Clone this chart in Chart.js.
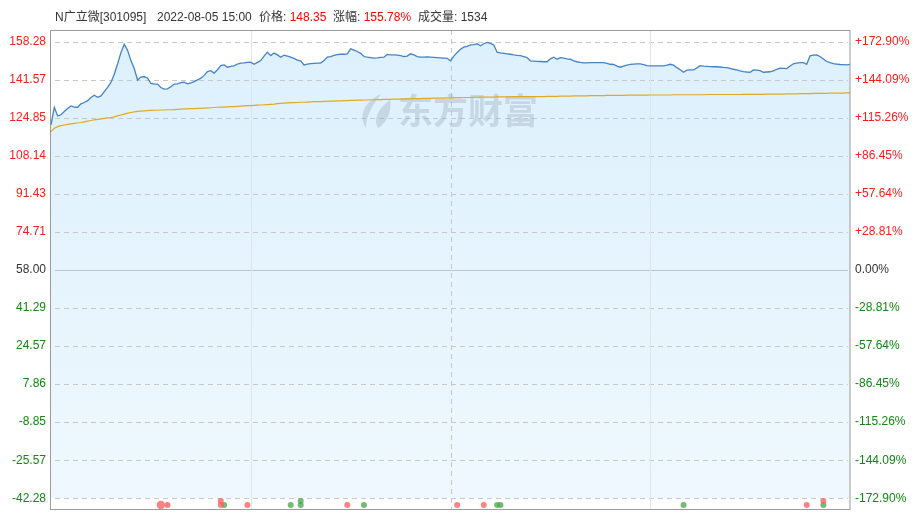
<!DOCTYPE html>
<html><head><meta charset="utf-8">
<script src="https://cdn.jsdelivr.net/npm/chart.js@4/dist/chart.umd.min.js"></script>
<style>
html,body{margin:0;padding:0;background:#fff;}
#wrap{position:relative;width:920px;height:515px;overflow:hidden;}
canvas{position:absolute;left:0;top:0;}
.h{position:absolute;top:9px;font:12px "Liberation Sans","Noto Sans CJK SC",Arial,sans-serif;color:#333;white-space:nowrap;line-height:16px;}
.r{color:#f00;}
</style></head>
<body><div id="wrap"><canvas id="c" width="920" height="515"></canvas>
<div class="h" style="left:55px">N广立微[301095]</div>
<div class="h" style="left:157px">2022-08-05 15:00</div>
<div class="h" style="left:259px">价格: <span class="r">148.35</span></div>
<div class="h" style="left:333px">涨幅: <span class="r">155.78%</span></div>
<div class="h" style="left:418px">成交量: 1534</div>
</div>
<script>
// ---- data ----
const preClose = 58.00;
const minutes = Array.from({length: 241}, (_, i) => i); // minute index 09:30..15:00
const prices = [
121.8,129.5,125.7,126.2,127.6,129.0,130.1,129.6,129.5,131.0,
131.6,132.4,133.8,134.8,133.9,134.5,136.4,138.2,140.4,144.0,
148.5,153.5,157.2,154.5,150.0,146.5,141.5,142.8,143.0,142.3,
140.0,139.7,139.7,138.2,137.5,137.6,138.5,139.7,139.8,140.3,
140.5,139.8,140.2,140.8,141.5,142.3,143.5,145.2,145.6,144.5,
146.0,147.8,148.1,147.1,147.5,147.7,148.5,148.9,149.0,149.2,
149.3,148.4,149.2,150.0,152.0,153.7,152.2,153.3,152.5,151.5,
152.4,152.0,151.5,151.0,150.2,149.9,148.1,148.5,148.7,148.8,
148.9,148.9,150.0,151.5,151.8,152.3,152.6,152.8,152.8,153.0,
155.2,154.6,154.0,153.2,151.8,151.5,151.3,151.1,151.2,151.4,
151.5,152.7,152.5,152.5,152.4,152.2,151.8,152.0,153.0,152.5,
151.8,151.5,151.5,151.6,151.5,151.4,151.3,151.2,151.1,151.0,
149.9,152.0,153.6,155.0,155.9,156.3,156.9,157.0,157.4,156.5,
157.4,158.0,157.6,156.9,153.7,153.4,153.2,153.0,152.8,152.5,
152.3,152.2,151.8,151.3,149.9,149.8,149.7,149.6,149.5,149.5,
150.8,151.5,150.6,151.3,151.1,150.8,150.6,149.9,149.5,149.2,
149.0,149.0,149.1,149.1,149.1,149.1,149.1,148.8,148.4,148.3,
147.6,147.1,147.6,148.0,148.3,148.5,148.6,148.6,148.2,147.8,
147.7,147.7,147.7,147.7,147.7,148.0,148.4,148.0,146.9,146.0,
144.9,145.8,145.9,145.9,146.8,147.8,147.6,147.5,147.4,147.3,
147.3,147.2,147.0,146.9,146.6,146.2,145.9,145.5,145.2,145.0,
144.9,145.9,145.8,145.6,144.9,145.0,145.1,145.5,146.2,146.7,
146.6,146.5,147.6,148.6,148.9,149.1,149.1,148.4,152.1,152.4,
152.5,151.8,150.7,149.6,149.1,148.7,148.5,148.3,148.2,148.1,
148.35];
const avgPrices = [
118.8,120.3,121.0,121.4,121.7,122.0,122.2,122.4,122.6,122.8,
123.1,123.4,123.7,124.0,124.2,124.4,124.6,124.8,125.0,125.3,
125.7,126.1,126.5,126.9,127.2,127.5,127.7,127.8,127.9,128.0,
128.1,128.2,128.2,128.3,128.3,128.4,128.4,128.5,128.6,128.7,
128.8,128.8,128.9,128.9,129.0,129.0,129.1,129.2,129.3,129.4,
129.5,129.6,129.6,129.7,129.8,129.8,129.9,130.0,130.1,130.2,
130.2,130.3,130.4,130.5,130.6,130.7,130.8,130.9,131.1,131.2,
131.3,131.4,131.5,131.5,131.6,131.7,131.7,131.8,131.9,132.0,
132.0,132.0,132.1,132.1,132.2,132.2,132.3,132.3,132.4,132.4,
132.5,132.5,132.6,132.6,132.7,132.7,132.8,132.8,132.9,132.9,
133.0,133.0,133.0,133.1,133.1,133.1,133.2,133.2,133.2,133.3,
133.3,133.3,133.4,133.4,133.4,133.5,133.5,133.5,133.5,133.6,
133.6,133.6,133.7,133.7,133.8,133.8,133.8,133.9,133.9,134.0,
134.0,134.0,134.0,134.0,134.1,134.1,134.1,134.1,134.1,134.2,
134.2,134.2,134.2,134.2,134.2,134.2,134.2,134.2,134.2,134.3,
134.3,134.3,134.3,134.4,134.4,134.4,134.4,134.5,134.5,134.5,
134.5,134.5,134.6,134.6,134.6,134.6,134.6,134.7,134.7,134.7,
134.7,134.7,134.7,134.8,134.8,134.8,134.8,134.8,134.8,134.8,
134.9,134.9,134.9,134.9,134.9,134.9,134.9,135.0,135.0,135.0,
135.0,135.0,135.0,135.0,135.0,135.0,135.0,135.1,135.1,135.1,
135.1,135.1,135.1,135.1,135.1,135.1,135.1,135.1,135.2,135.2,
135.2,135.2,135.2,135.2,135.2,135.3,135.3,135.3,135.3,135.3,
135.3,135.4,135.4,135.4,135.4,135.5,135.5,135.5,135.5,135.6,
135.6,135.6,135.6,135.6,135.7,135.7,135.7,135.7,135.7,135.8,
135.8];
const leftTickLabels = ['158.28','141.57','124.85','108.14','91.43','74.71','58.00','41.29','24.57','7.86','-8.85','-25.57','-42.28'];
const rightTickLabels = ['+172.90%','+144.09%','+115.26%','+86.45%','+57.64%','+28.81%','0.00%','-28.81%','-57.64%','-86.45%','-115.26%','-144.09%','-172.90%'];
const sessionMarks = [60, 120, 180]; // 10:30, 11:30/13:00, 14:00
// big-order markers
const buyMinutes  = [33, 35, 51, 51, 59, 89, 122, 130, 227, 232];
const buyLevels   = [-45.22, -45.22, -43.46, -45.22, -45.22, -45.22, -45.22, -45.22, -45.22, -43.46];
const buyLots     = [2, 1, 1, 1, 1, 1, 1, 1, 1, 1];
const sellMinutes = [52, 72, 75, 75, 94, 134, 135, 190, 232];
const sellLevels  = [-45.22, -45.22, -43.46, -45.22, -45.22, -45.22, -45.22, -45.22, -45.22];
const sellLots    = [1, 1, 1, 1, 1, 1, 1, 1, 1];

// ---- chart ----
const halfRange = 105.45;
const yMin = preClose - halfRange, yMax = preClose + halfRange;
const pctHalf = halfRange / preClose * 100;
const FONT = '"Liberation Sans", Arial, sans-serif';

function tickColor(v, zero) {
  if (Math.abs(v - zero) < 1e-6) return '#333333';
  return v > zero ? '#ff1a1a' : '#118811';
}

const decor = {
  id: 'decor',
  beforeDatasetsDraw(chart) {
    const {ctx, chartArea: a, scales} = chart;
    const y = scales.y, x = scales.x;
    ctx.save();
    // horizontal grid
    leftTickLabels.forEach(s => {
      const v = parseFloat(s);
      const py = Math.round(y.getPixelForValue(v)) + 0.5;
      ctx.beginPath();
      if (Math.abs(v - preClose) < 1e-6) {
        ctx.setLineDash([]);
        ctx.strokeStyle = '#b9c6cf';
      } else {
        ctx.setLineDash([5, 4]);
        ctx.strokeStyle = '#c8c8c8';
      }
      ctx.lineWidth = 1;
      ctx.moveTo(a.left + 4, py);
      ctx.lineTo(a.right - 2, py);
      ctx.stroke();
    });
    // vertical grid
    sessionMarks.forEach((m, k) => {
      const px = Math.round(x.getPixelForValue(m)) + 0.5;
      ctx.beginPath();
      if (k === 1) { ctx.setLineDash([5, 4]); ctx.strokeStyle = '#c4c8cc'; }
      else { ctx.setLineDash([]); ctx.strokeStyle = '#dde6ec'; }
      ctx.moveTo(px, a.top);
      ctx.lineTo(px, a.bottom);
      ctx.stroke();
    });
    ctx.setLineDash([]);
    // watermark
    ctx.fillStyle = 'rgba(150,162,178,0.33)';
    ctx.font = 'bold 35px "Noto Sans CJK SC", sans-serif';
    ctx.textBaseline = 'middle';
    ctx.textAlign = 'left';
    ctx.fillText('东方财富', 398, 111);
    // logo
    ctx.beginPath();
    ctx.moveTo(381, 94);
    ctx.bezierCurveTo(364, 102, 358, 116, 366, 128);
    ctx.bezierCurveTo(366, 116, 372, 106, 381, 94);
    ctx.fill();
    ctx.beginPath();
    ctx.moveTo(390, 100);
    ctx.bezierCurveTo(378, 108, 373, 120, 378, 128);
    ctx.bezierCurveTo(388, 122, 392, 110, 390, 100);
    ctx.fill();
    ctx.restore();
  },
  afterDraw(chart) {
    const {ctx, chartArea: a} = chart;
    ctx.save();
    ctx.strokeStyle = '#9a9a9a';
    ctx.lineWidth = 1;
    ctx.strokeRect(a.left - 0.5, a.top + 0.5, a.right - a.left + 0.5, a.bottom - a.top - 1);
    ctx.restore();
  }
};

function fillGradient(context) {
  const chart = context.chart;
  const a = chart.chartArea;
  if (!a) return '#e6f4fd';
  const g = chart.ctx.createLinearGradient(0, a.top, 0, a.bottom);
  g.addColorStop(0, '#dcf0fc');
  g.addColorStop(1, '#eff8fe');
  return g;
}

const toPts = (xs, ys) => xs.map((t, i) => ({x: t, y: ys[i]}));

new Chart(document.getElementById('c'), {
  type: 'line',
  data: {
    datasets: [
      {
        label: '成交价',
        data: toPts(minutes, prices),
        borderColor: '#4583c9',
        borderWidth: 1.3,
        pointRadius: 0,
        tension: 0,
        fill: {value: parseFloat(leftTickLabels[leftTickLabels.length - 1])},
        backgroundColor: fillGradient,
        order: 2
      },
      {
        label: '均价',
        data: toPts(minutes, avgPrices),
        borderColor: '#e3a91e',
        borderWidth: 1.2,
        pointRadius: 0,
        tension: 0,
        fill: false,
        order: 1
      },
      {
        type: 'scatter',
        label: '大单买入',
        data: toPts(buyMinutes, buyLevels),
        pointRadius: ctx => (buyLots[ctx.dataIndex] > 1 ? 4.2 : 3),
        pointBackgroundColor: 'rgba(255,95,95,0.78)',
        pointBorderWidth: 0,
        order: 0
      },
      {
        type: 'scatter',
        label: '大单卖出',
        data: toPts(sellMinutes, sellLevels),
        pointRadius: ctx => (sellLots[ctx.dataIndex] > 1 ? 4.2 : 3),
        pointBackgroundColor: 'rgba(70,165,70,0.75)',
        pointBorderWidth: 0,
        order: 0
      }
    ]
  },
  options: {
    responsive: false,
    animation: false,
    devicePixelRatio: 1,
    layout: {padding: {top: 30, bottom: 5, left: 0, right: 0}},
    plugins: {
      legend: {display: false},
      tooltip: {enabled: false},
      filler: {drawTime: 'beforeDatasetsDraw'}
    },
    scales: {
      x: {
        type: 'linear', min: 0, max: 240, display: false
      },
      y: {
        position: 'left', min: yMin, max: yMax,
        grid: {display: false, drawTicks: false},
        border: {display: false},
        afterBuildTicks: s => { s.ticks = leftTickLabels.map(t => ({value: parseFloat(t)})); },
        afterFit: s => { s.width = 51; s.paddingTop = 0; s.paddingBottom = 0; },
        ticks: {
          padding: 5,
          autoSkip: false,
          font: {family: FONT, size: 12},
          color: c => tickColor(c.tick.value, preClose),
          callback: (v, i) => leftTickLabels[i]
        }
      },
      y2: {
        position: 'right', min: -pctHalf, max: pctHalf,
        grid: {display: false, drawTicks: false},
        border: {display: false},
        afterBuildTicks: s => { s.ticks = rightTickLabels.map(t => ({value: parseFloat(t)})); },
        afterFit: s => { s.width = 70; s.paddingTop = 0; s.paddingBottom = 0; },
        ticks: {
          padding: 5,
          autoSkip: false,
          font: {family: FONT, size: 12},
          color: c => tickColor(c.tick.value, 0),
          callback: (v, i) => rightTickLabels[i]
        }
      }
    }
  },
  plugins: [decor]
});
</script>
</body></html>
